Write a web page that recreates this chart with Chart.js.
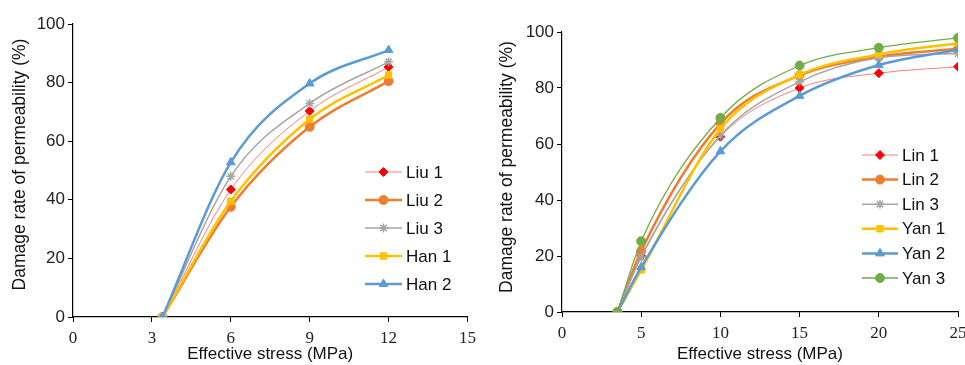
<!DOCTYPE html>
<html>
<head>
<meta charset="utf-8">
<script src="https://cdn.jsdelivr.net/npm/chart.js@4.4.0/dist/chart.umd.min.js"></script>
<style>
  html, body { margin: 0; padding: 0; background: #fff; overflow: hidden; width: 965px; height: 365px; }
  #left { position: absolute; left: 0; top: 0; }
  #right { position: absolute; left: 482px; top: 0; }
</style>
</head>
<body>
<canvas id="left" width="482" height="365"></canvas>
<canvas id="right" width="500" height="365"></canvas>
<script>
// left panel
const leftStress = [3.4, 6, 9, 12];
const liu1 = [0, 43.5, 70.3, 85.3];
const liu2 = [0, 37.6, 64.9, 80.5];
const liu3 = [0, 48, 72.9, 87.1];
const han1 = [0, 39.5, 67.5, 82.6];
const han2 = [0, 52.8, 79.7, 91.1];

// right panel
const rightStress = [3.5, 5, 10, 15, 20, 25];
const lin1 = [0, 20, 62.6, 80, 85.3, 87.6];
const lin2 = [0, 21.8, 67.3, 84.5, 91.2, 94];
const lin3 = [0, 19.6, 63, 82.2, 90.8, 92.3];
const yan1 = [0, 15, 65.4, 84.7, 92, 96];
const yan2 = [0, 16, 57.4, 77.2, 88.2, 93.7];
const yan3 = [0, 25.3, 69.3, 88, 94.4, 97.9];

const yTitle = "Damage rate of permeability (%)";
const xTitle = "Effective stress (MPa)";

const RED = "#ff0000", PINK = "#f08080", ORANGE = "#ed7d31", GRAY = "#a5a5a5",
      GOLD = "#ffc000", BLUE = "#5b9bd5", GREEN = "#70ad47";
const SANS = "'Liberation Sans', Arial, sans-serif";

function pts(xs, ys) {
  return xs.map((x, i) => ({ x: x, y: ys[i] }));
}

function series(label, xs, ys, line, mark, width, style, i) {
  return {
    label: label,
    data: pts(xs, ys),
    borderColor: line,
    borderWidth: width,
    pointBackgroundColor: mark,
    pointBorderColor: mark,
    pointBorderWidth: style === "star" ? 1.5 : 1,
    pointStyle: style,
    pointRadius: style === "triangle" ? 5 : 4.5,
    cubicInterpolationMode: "monotone",
    fill: false,
    order: -i
  };
}

// legend with line + marker, and the rotated y title, drawn by hand
const extras = {
  id: "extras",
  afterDraw(chart, args, opts) {
    const ctx = chart.ctx;
    const area = chart.chartArea;
    ctx.save();
    chart.data.datasets.forEach((ds, i) => {
      const y = opts.y + i * opts.gap;
      ctx.strokeStyle = ds.borderColor;
      ctx.lineWidth = ds.borderWidth;
      ctx.beginPath();
      ctx.moveTo(opts.x, y);
      ctx.lineTo(opts.x + opts.len, y);
      ctx.stroke();
      ctx.fillStyle = ds.pointBackgroundColor;
      ctx.strokeStyle = ds.pointBorderColor;
      ctx.lineWidth = ds.pointBorderWidth;
      Chart.helpers.drawPoint(ctx, {
        pointStyle: ds.pointStyle, radius: ds.pointRadius, rotation: 0, borderWidth: ds.pointBorderWidth
      }, opts.x + opts.len / 2, y);
      ctx.fillStyle = "#111";
      ctx.font = "17px " + SANS;
      ctx.textBaseline = "middle";
      ctx.textAlign = "left";
      ctx.fillText(ds.label, opts.x + opts.len + 4, y + 1);
    });
    ctx.translate(opts.titleX, (area.top + area.bottom) / 2 + opts.titleShift);
    ctx.rotate(-Math.PI / 2);
    ctx.fillStyle = "#111";
    ctx.font = "17.5px " + SANS;
    ctx.textAlign = "center";
    ctx.textBaseline = "middle";
    ctx.fillText(yTitle, 0, 0);
    ctx.restore();
  }
};

function axes(xMax, xStep, yWidth, xHeight) {
  return {
    x: {
      type: "linear", min: 0, max: xMax,
      ticks: { stepSize: xStep, color: "#222", padding: 6, maxRotation: 0,
               font: { family: "'Liberation Serif', 'Times New Roman', serif", size: 17 } },
      grid: { drawOnChartArea: false, drawTicks: true, tickLength: 5, color: "#000" },
      border: { color: "#000", width: 1.2 },
      title: { display: true, text: xTitle, color: "#111", padding: 0,
               font: { family: SANS, size: 17 } },
      afterFit(s) { s.height = xHeight; }
    },
    y: {
      min: 0, max: 100,
      ticks: { stepSize: 20, color: "#222", padding: 3,
               font: { family: SANS, size: 17 } },
      grid: { drawOnChartArea: false, drawTicks: true, tickLength: 5, color: "#000" },
      border: { color: "#000", width: 1.2 },
      afterFit(s) { s.width = yWidth; }
    }
  };
}

new Chart("left", {
  type: "line",
  data: {
    datasets: [
      series("Liu 1", leftStress, liu1, PINK, RED, 1, "rectRot", 0),
      series("Liu 2", leftStress, liu2, ORANGE, ORANGE, 2.5, "circle", 1),
      series("Liu 3", leftStress, liu3, GRAY, GRAY, 1.5, "star", 2),
      series("Han 1", leftStress, han1, GOLD, GOLD, 2.5, "rect", 3),
      series("Han 2", leftStress, han2, BLUE, BLUE, 2.5, "triangle", 4)
    ]
  },
  options: {
    responsive: false,
    animation: false,
    layout: { padding: { left: 0, right: 11, top: 24, bottom: 0 } },
    scales: axes(15, 3, 73, 48),
    plugins: {
      legend: { display: false },
      tooltip: { enabled: false },
      extras: { x: 365, y: 172, gap: 28, len: 37, titleX: 20, titleShift: -6 }
    }
  },
  plugins: [extras]
});

new Chart("right", {
  type: "line",
  data: {
    datasets: [
      series("Lin 1", rightStress, lin1, PINK, RED, 1, "rectRot", 0),
      series("Lin 2", rightStress, lin2, ORANGE, ORANGE, 2.5, "circle", 1),
      series("Lin 3", rightStress, lin3, GRAY, GRAY, 1.5, "star", 2),
      series("Yan 1", rightStress, yan1, GOLD, GOLD, 2.5, "rect", 3),
      series("Yan 2", rightStress, yan2, BLUE, BLUE, 2.5, "triangle", 4),
      series("Yan 3", rightStress, yan3, GREEN, GREEN, 1.3, "circle", 5)
    ]
  },
  options: {
    responsive: false,
    animation: false,
    layout: { padding: { left: 0, right: 24, top: 32, bottom: 0 } },
    scales: axes(25, 5, 80, 53),
    plugins: {
      legend: { display: false },
      tooltip: { enabled: false },
      extras: { x: 380, y: 155, gap: 24.6, len: 36, titleX: 25, titleShift: -5 }
    }
  },
  plugins: [extras]
});
</script>
</body>
</html>
